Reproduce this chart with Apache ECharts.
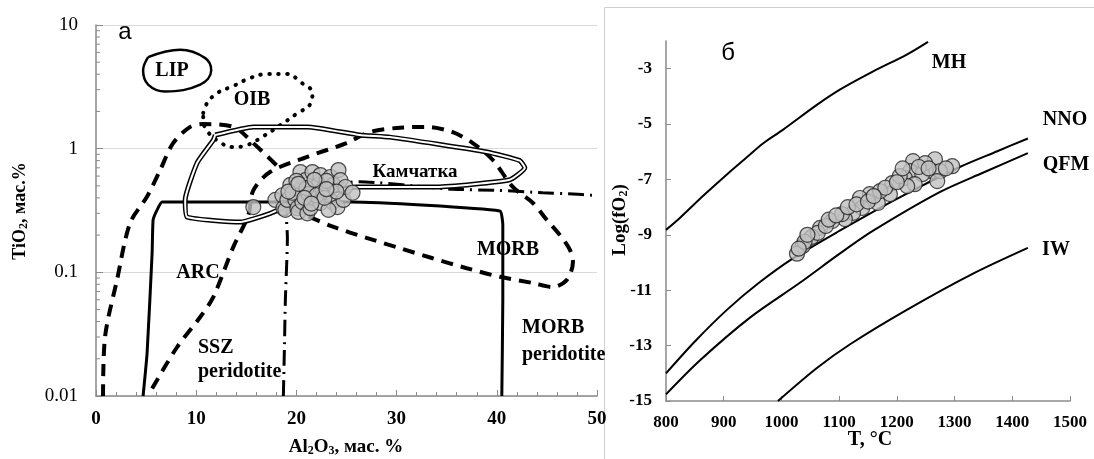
<!DOCTYPE html>
<html><head><meta charset="utf-8">
<script src="https://cdn.jsdelivr.net/npm/echarts@6/dist/echarts.min.js"></script>
<style>html,body{margin:0;padding:0;background:#fff}#c{width:1094px;height:459px}</style>
</head><body><div id="c"></div>
<script>
// ---------- Panel a: Al2O3 vs TiO2 (log) ----------
const lipField = [[5.2,5.5],[8.4,6.3],[10.9,5.4],[11.5,4.3],[10.4,3.3],[6.9,2.9],[5.2,3.3],[4.7,4.3],[5.2,5.5]];
const oibField = [[10.7,1.94],[11.1,2.34],[12.1,2.82],[13.7,3.21],[15.4,3.73],[17.1,4.02],[19.1,4.02],[20.4,3.46],[21.6,2.82],[21.4,2.30],[20.0,1.91],[18.4,1.55],[16.7,1.26],[15.1,1.07],[13.6,1.03],[12.2,1.15],[11.1,1.39],[10.7,1.71],[10.7,1.94]];
const kamchatkaField = [[11.9,1.29],[15.7,1.50],[21.1,1.50],[26.3,1.29],[29.3,1.24],[39.0,0.94],[42.3,0.80],[42.8,0.70],[41.3,0.56],[34.0,0.49],[26.0,0.49],[20.4,0.385],[17.4,0.30],[14.4,0.255],[9.1,0.28],[8.9,0.385],[10.1,0.77],[11.7,1.17],[11.9,1.29]];
const arcBoundary = [[0.7,0.01],[0.9,0.030],[2.1,0.087],[3.4,0.25],[5.1,0.41],[6.4,0.67],[7.7,1.11],[9.4,1.50],[10.7,1.58],[13.7,1.50],[15.9,1.07],[18.2,0.71]];
const morbField = [[5.6,0.0115],[8.1,0.0249],[10.4,0.0435],[11.7,0.063],[13.7,0.16],[15.2,0.29],[15.7,0.46],[17.4,0.65],[21.1,0.86],[25.0,1.11],[27.3,1.36],[30.0,1.47],[33.0,1.50],[35.6,1.36],[37.6,1.11],[39.6,0.81],[41.6,0.49],[43.6,0.364],[45.0,0.265],[46.3,0.20],[47.3,0.152],[47.6,0.121],[47.0,0.087],[45.6,0.076],[43.6,0.082],[40.3,0.092],[37.0,0.108],[33.6,0.13],[30.3,0.157],[27.0,0.19],[23.7,0.233],[20.9,0.29],[19.4,0.33]];
const morbPeridotite = [[4.7,0.01],[5.1,0.0223],[5.6,0.143],[5.7,0.265],[6.1,0.32],[6.6,0.37],[15.4,0.37],[25.5,0.37],[40.3,0.313],[40.6,0.24],[40.6,0.06],[40.5,0.01]];
const sszPeridotite = [[18.7,0.01],[18.8,0.0236],[18.9,0.06],[19.1,0.19],[19.0,0.29],[20.0,0.45],[26.3,0.54],[28.3,0.53],[32.4,0.495],[35.6,0.47],[40.2,0.46],[44.6,0.44],[47.6,0.43],[49.5,0.42]];
const spinelA = [[15.7,0.337],[17.9,0.385],[18.6,0.42],[18.7,0.33],[18.9,0.32],[19.1,0.385],[19.4,0.51],[19.9,0.385],[20.1,0.33],[20.2,0.308],[20.4,0.647],[20.4,0.463],[20.6,0.37],[20.9,0.556],[21.1,0.30],[21.4,0.33],[21.6,0.647],[21.7,0.399],[22.2,0.51],[22.4,0.612],[22.4,0.364],[22.6,0.463],[22.9,0.447],[23.4,0.59],[23.6,0.37],[23.7,0.51],[24.1,0.337],[24.2,0.671],[24.4,0.556],[24.7,0.385],[24.9,0.49],[25.6,0.44],[21.2,0.43],[23.2,0.32],[19.6,0.44],
  [20.0,0.55],[21.0,0.48],[22.0,0.42],[23.0,0.55],[21.8,0.56],[20.8,0.40],[22.8,0.40],[24.0,0.45],[19.2,0.45],[21.5,0.36],[23.0,0.47],[20.2,0.52]];
const logTickLabels = ['0.01','0.1','1','10'];
const logMinorTicks = [0.02,0.03,0.04,0.05,0.06,0.07,0.08,0.09,0.2,0.3,0.4,0.5,0.6,0.7,0.8,0.9,2,3,4,5,6,7,8,9];

// ---------- Panel b: T vs log fO2 ----------
const mhBuffer = [[800,-8.82],[824,-8.39],[864,-7.60],[906,-6.81],[940,-6.2],[968,-5.7],[1003,-5.2],[1062,-4.3],[1102,-3.75],[1159,-3.1],[1218,-2.48],[1254,-2.03]];
const nnoBuffer = [[800,-14.0],[850,-12.85],[906,-11.7],[960,-10.75],[1020,-9.85],[1101,-8.85],[1200,-7.7],[1309,-6.55],[1374,-5.98],[1427,-5.52]];
const qfmBuffer = [[800,-14.76],[859,-13.53],[946,-11.98],[1032,-10.73],[1101,-9.68],[1159,-8.85],[1275,-7.45],[1350,-6.75],[1427,-6.05]];
const iwBuffer = [[994,-15.0],[1062,-13.8],[1119,-12.95],[1218,-11.7],[1332,-10.4],[1427,-9.47]];
const spinelB = [[1228,-6.34],[1266,-6.27],[1296,-6.52],[1261,-6.70],[1275,-6.70],[1223,-6.70],[1214,-6.95],[1244,-6.81],[1231,-7.17],[1270,-7.06],[1218,-7.24],[1192,-7.13],[1188,-7.53],[1167,-7.85],[1153,-7.53],[1136,-7.67],[1140,-8.03],[1124,-8.21],[1110,-8.43],[1088,-8.50],[1105,-8.25],[1067,-8.75],[1050,-9.14],[1037,-9.40],[1027,-9.68],[1053,-9.07],[1063,-8.93],[1077,-8.68],[1171,-7.42],[1205,-6.88],[1249,-6.41],
  [1040,-9.25],[1045,-9.0],[1082,-8.45],[1095,-8.3],[1115,-8.0],[1130,-7.9],[1150,-7.8],[1180,-7.3],[1200,-7.1],[1238,-6.55],[1255,-6.6],[1285,-6.6],[1030,-9.5],[1160,-7.6],[1210,-6.6]];
const yTicksB = [-15,-13,-11,-9,-7,-5,-3];

const SERIF = '"Liberation Serif", "Times New Roman", serif';
const SANS = '"Liberation Sans", Arial, sans-serif';
const AX = '#8a8a8a';

function lineSeries(data, idx, ls, smooth, z) {
  return {type:'line', xAxisIndex:idx, yAxisIndex:idx, data:data, showSymbol:false, symbol:'none',
    smooth:smooth, lineStyle:Object.assign({color:'#000'}, ls), silent:true, z:z||2, animation:false};
}
const ptStyle = {color:'#c0c0c0', borderColor:'#222', borderWidth:1.2};

const series = [
  lineSeries(lipField, 0, {width:2.5}, 0.4),
  lineSeries(oibField, 0, {width:4, type:[0.5,8.5], cap:'round'}, 0.4),
  lineSeries(kamchatkaField, 0, {width:5}, 0.15),
  lineSeries(kamchatkaField, 0, {width:2, color:'#fff'}, 0.15, 3),
  lineSeries(arcBoundary, 0, {width:4, type:[12,8]}, 0.3),
  lineSeries(morbField, 0, {width:4, type:[12,8]}, 0.3),
  lineSeries(morbPeridotite, 0, {width:3}, 0.15),
  lineSeries(sszPeridotite, 0, {width:3, type:[16,6,2,6]}, 0.2),
  {type:'scatter', xAxisIndex:0, yAxisIndex:0, data:spinelA, symbolSize:15, itemStyle:ptStyle, z:5, silent:true, animation:false},
  {type:'custom', xAxisIndex:0, yAxisIndex:0, data:logMinorTicks.map(v=>[0,v]), silent:true, animation:false, z:6,
    renderItem:(p,api)=>{const pt=api.coord([0,api.value(1)]);
      return {type:'line', shape:{x1:pt[0],y1:pt[1],x2:pt[0]+4,y2:pt[1]}, style:{stroke:AX,lineWidth:1}};}},
  lineSeries(mhBuffer, 1, {width:2}, 0.3),
  lineSeries(nnoBuffer, 1, {width:2}, 0.3),
  lineSeries(qfmBuffer, 1, {width:2}, 0.3),
  lineSeries(iwBuffer, 1, {width:2}, 0.3),
  {type:'scatter', xAxisIndex:1, yAxisIndex:1, data:spinelB, symbolSize:15, itemStyle:ptStyle, z:5, silent:true, animation:false}
];

function txt(x, y, text, size, opts) {
  return Object.assign({type:'text', x:x, y:y, silent:true, z:100,
    style:Object.assign({text:text, fontFamily:SERIF, fontWeight:'bold', fontSize:size||20, fill:'#000', align:'center', verticalAlign:'middle'}, (opts&&opts.style)||{})},
    (opts&&opts.el)||{});
}
const richB = (fs)=>({b:{fontFamily:SERIF,fontWeight:'bold',fontSize:fs,fill:'#000'}, s:{fontFamily:SERIF,fontWeight:'bold',fontSize:Math.round(fs*0.65),fill:'#000',padding:[8,0,0,0]}});

const graphics = [
  {type:'rect', shape:{x:604.5,y:7.5,width:520,height:470}, style:{fill:null,stroke:'#cfcfcf',lineWidth:1}, silent:true, z:0},
  txt(125,32,'а',24,{style:{fontFamily:SANS,fontWeight:'normal'}}),
  txt(728,53,'б',24,{style:{fontFamily:SANS,fontWeight:'normal'}}),
  txt(172,71,'LIP',20),
  txt(252,100,'OIB',20),
  txt(415,172,'Камчатка',19),
  txt(198,273,'ARC',20),
  txt(508,250,'MORB',20),
  txt(198,348,'SSZ',20,{style:{align:'left'}}),
  txt(198,372,'peridotite',20,{style:{align:'left'}}),
  txt(522,328,'MORB',20,{style:{align:'left'}}),
  txt(522,355,'peridotite',20,{style:{align:'left'}}),
  txt(949,63,'MH',20),
  txt(1065,120,'NNO',20),
  txt(1066,165,'QFM',20),
  txt(1056,250,'IW',20),
  // axis titles
  {type:'text', x:346, y:447, silent:true, z:100, style:{text:'{b|Al}{s|2}{b|O}{s|3}{b|, мас. %}', rich:richB(19), align:'center', verticalAlign:'middle'}},
  {type:'text', x:20, y:211, rotation:Math.PI/2, silent:true, z:100, style:{text:'{b|TiO}{s|2}{b|, мас.%}', rich:richB(18), align:'center', verticalAlign:'middle'}},
  {type:'text', x:870, y:440, silent:true, z:100, style:{text:'T, °C', fontFamily:SERIF, fontWeight:'bold', fontSize:20, fill:'#000', align:'center', verticalAlign:'middle'}},
  {type:'text', x:620, y:220, rotation:Math.PI/2, silent:true, z:100, style:{text:'{b|Log(fO}{s|2}{b|)}', rich:richB(19), align:'center', verticalAlign:'middle'}}
];

const chart = echarts.init(document.getElementById('c'));
chart.setOption({
  animation:false,
  backgroundColor:'#fff',
  grid:[{left:96, top:25, width:501, height:371}, {left:666, top:41, width:404, height:360}],
  xAxis:[
    {gridIndex:0, type:'value', min:0, max:50, interval:10,
     axisLine:{show:true,onZero:false,lineStyle:{color:AX,width:1.5}},
     axisTick:{show:true,inside:true,length:6,lineStyle:{color:AX}},
     minorTick:{show:true,splitNumber:5,length:4,lineStyle:{color:AX}},
     splitLine:{show:false},
     axisLabel:{fontFamily:SERIF,fontWeight:'bold',fontSize:19,color:'#000',margin:14}},
    {gridIndex:1, type:'value', min:800, max:1500, interval:100,
     axisLine:{show:true,onZero:false,lineStyle:{color:AX,width:1.5}},
     axisTick:{show:true,inside:true,length:5,lineStyle:{color:AX}},
     splitLine:{show:false},
     axisLabel:{fontFamily:SERIF,fontWeight:'bold',fontSize:17,color:'#000',margin:13,formatter:(v)=>String(v)}}
  ],
  yAxis:[
    {gridIndex:0, type:'log', logBase:10, min:0.01, max:10,
     axisLine:{show:true,onZero:false,lineStyle:{color:AX,width:1.5}},
     axisTick:{show:true,inside:true,length:7,lineStyle:{color:AX}},
     splitLine:{show:true,lineStyle:{color:'#d9d9d9',width:1}},
     axisLabel:{fontFamily:SERIF,fontSize:19,color:'#000',margin:18,
       formatter:(v)=>logTickLabels[Math.round(Math.log10(v))+2]}},
    {gridIndex:1, type:'value', min:-15, max:-2, interval:2,
     axisLine:{show:true,onZero:false,lineStyle:{color:AX,width:1.5}},
     axisTick:{show:true,inside:true,length:5,lineStyle:{color:AX},customValues:yTicksB},
     splitLine:{show:false},
     axisLabel:{fontFamily:SERIF,fontWeight:'bold',fontSize:17,color:'#000',margin:14,customValues:yTicksB,formatter:(v)=>String(v)}}
  ],
  series:series,
  graphic:graphics
});
</script>
</body></html>
